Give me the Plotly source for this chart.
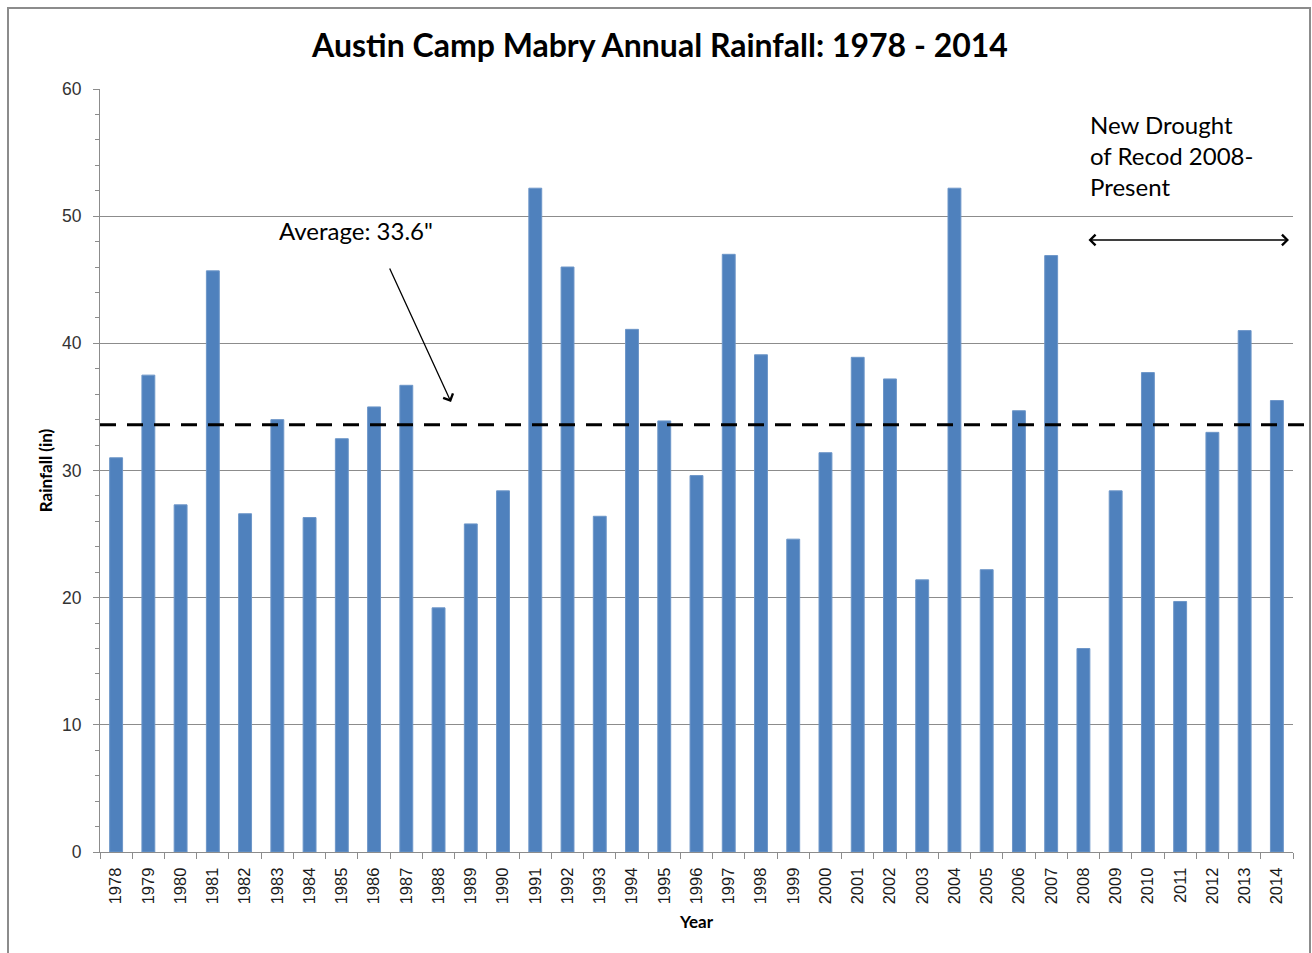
import plotly.graph_objects as go

# Annual rainfall at Austin Camp Mabry, inches
years = [str(y) for y in range(1978, 2015)]
rainfall = [31.0, 37.5, 27.3, 45.7, 26.6, 34.0, 26.3, 32.5, 35.0, 36.7,
            19.2, 25.8, 28.4, 52.2, 46.0, 26.4, 41.1, 33.9, 29.6, 47.0,
            39.1, 24.6, 31.4, 38.9, 37.2, 21.4, 52.2, 22.2, 34.7, 46.9,
            16.0, 28.4, 37.7, 19.7, 33.0, 41.0, 35.5]
average_rainfall = 33.6
y_ticks = [0, 10, 20, 30, 40, 50, 60]

W, H = 1312, 953
ML, MR, MT, MB = 100, 19, 89, 101
PW, PH = W - ML - MR, H - MT - MB


def px(x):
    return (x - ML) / PW


def py(y):
    return (H - MB - y) / PH


FONT = "Lato, 'Open Sans', sans-serif"
TICK_FONT = "'Liberation Sans', Arial, sans-serif"
GRID = "#8c8c8c"

fig = go.Figure(go.Bar(
    x=years, y=rainfall,
    marker=dict(color="#4f81bd", line=dict(color="#6d96c8", width=1)),
))

fig.update_layout(
    width=W, height=H,
    margin=dict(l=ML, r=MR, t=MT, b=MB),
    paper_bgcolor="white", plot_bgcolor="white",
    bargap=0.6,
    showlegend=False,
    title=dict(text="<b>Austin Camp Mabry Annual Rainfall: 1978 - 2014</b>",
               x=660 / W, xanchor="center", y=1 - 46 / H, yanchor="middle",
               font=dict(family=FONT, size=32, color="black")),
    font=dict(family=FONT),
)

fig.update_xaxes(
    type="category",
    tickangle=-90,
    tickfont=dict(family=TICK_FONT, size=16.5, color="#1a1a1a"),
    ticks="outside", tickson="boundaries", ticklen=6, tickcolor=GRID,
    ticklabelstandoff=8,
    showline=True, linecolor=GRID, linewidth=1,
    showgrid=False,
    title=dict(text="<b>Year</b>", font=dict(family=FONT, size=17, color="black"), standoff=12),
)

fig.update_yaxes(
    range=[0, 60],
    tickvals=y_ticks,
    tickfont=dict(family=TICK_FONT, size=17.5, color="#333333"),
    ticks="outside", ticklen=6, tickcolor=GRID,
    ticklabelstandoff=8,
    minor=dict(dtick=2, ticks="outside", ticklen=4, tickcolor=GRID, showgrid=False),
    showline=True, linecolor=GRID, linewidth=1,
    showgrid=True, gridcolor=GRID, gridwidth=1,
    zeroline=False,
    title=dict(text="<b>Rainfall (in)</b>", font=dict(family=FONT, size=17, color="black"), standoff=5),
)

# Dashed average line, running slightly past the plot area
fig.add_shape(type="line", xref="paper", yref="y",
              x0=0, x1=px(1304), y0=average_rainfall, y1=average_rainfall,
              line=dict(color="black", width=3, dash="16px,11px"))

# Outer chart frame
fig.add_shape(type="rect", xref="paper", yref="paper",
              x0=px(8), x1=px(1310), y0=py(8), y1=py(990),
              line=dict(color="#8c8c8c", width=2), fillcolor="rgba(0,0,0,0)",
              layer="below")

# Average label with pointer
fig.add_annotation(xref="paper", yref="paper", x=px(356), y=py(231),
                   text="Average: 33.6\"", showarrow=False,
                   font=dict(family=FONT, size=24, color="black"),
                   xanchor="center", yanchor="middle")
fig.add_annotation(xref="paper", yref="paper", x=px(451), y=py(402),
                   ax=389 - 451, ay=267 - 402, text="",
                   showarrow=True, arrowhead=4, arrowsize=1.6, arrowwidth=1.3,
                   arrowcolor="black")

# Drought period note and double-headed arrow
fig.add_annotation(xref="paper", yref="paper", x=px(1088), y=py(108),
                   text="New Drought<br>of Recod 2008-<br>Present", showarrow=False,
                   align="left", xanchor="left", yanchor="top",
                   font=dict(family=FONT, size=24, color="black"))
fig.add_annotation(xref="paper", yref="paper", x=px(1289), y=py(240),
                   ax=1087 - 1289, ay=0, text="",
                   showarrow=True, arrowhead=4, arrowside="end+start",
                   arrowsize=1.6, arrowwidth=1.3, arrowcolor="black")

fig.write_html("out.html")
